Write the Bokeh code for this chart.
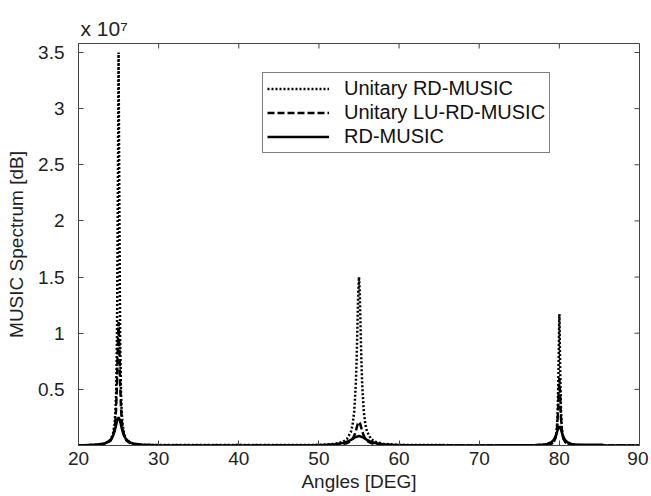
from bokeh.plotting import figure
from bokeh.models import Range1d, FixedTicker, Legend, LegendItem, Title
from bokeh.embed import file_html
from bokeh.resources import INLINE

# ---- data (MUSIC spectrum, in units of 1e7) ----
ur_angles = [20, 22, 23, 24, 24.3, 24.5, 24.6, 24.7, 24.8, 24.9, 25, 25.1, 25.2, 25.3, 25.4, 25.5, 25.7, 26, 26.5, 27, 28, 30,
             40, 50, 52, 53, 53.5, 54, 54.2, 54.4, 54.6, 54.7, 54.8, 54.9, 55, 55.1, 55.2, 55.3, 55.4, 55.6, 55.8, 56, 56.5, 57, 58, 60,
             70, 75, 77, 78, 78.5, 79, 79.3, 79.5, 79.6, 79.7, 79.8, 79.9, 80, 80.1, 80.2, 80.3, 80.4, 80.5, 80.7, 81, 81.5, 82, 83, 85, 90]
ur_values = [0.002, 0.004, 0.0056, 0.05, 0.1, 0.19, 0.29, 0.48, 0.93, 2.07, 3.5, 2.07, 0.93, 0.48, 0.29, 0.19, 0.1, 0.05, 0.022, 0.0126, 0.0056, 0.004,
             0.0056, 0.004, 0.015, 0.033, 0.058, 0.124, 0.185, 0.3, 0.54, 0.75, 1.04, 1.35, 1.5, 1.35, 1.04, 0.75, 0.54, 0.3, 0.185, 0.124, 0.058, 0.033, 0.015, 0.0054,
             0.002, 0.0007, 0.0019, 0.0042, 0.0075, 0.0165, 0.033, 0.064, 0.097, 0.16, 0.31, 0.69, 1.17, 0.69, 0.31, 0.16, 0.097, 0.064, 0.033, 0.0165, 0.0075, 0.0042, 0.0019, 0.0007, 0.0005]

lu_angles = [20, 22, 23, 23.5, 24, 24.3, 24.5, 24.6, 24.7, 24.8, 24.9, 25, 25.1, 25.2, 25.3, 25.4, 25.5, 25.7, 26, 26.5, 27, 28, 30,
             40, 50, 52, 53, 53.5, 54, 54.3, 54.5, 54.7, 54.85, 55, 55.15, 55.3, 55.5, 55.7, 56, 56.5, 57, 58, 60,
             70, 75, 77, 78, 78.5, 79, 79.3, 79.5, 79.6, 79.7, 79.8, 79.9, 80, 80.1, 80.2, 80.3, 80.4, 80.5, 80.7, 81, 81.5, 82, 83, 85, 90]
lu_values = [0.0018, 0.0049, 0.011, 0.019, 0.042, 0.083, 0.152, 0.22, 0.34, 0.55, 0.88, 1.1, 0.88, 0.55, 0.34, 0.22, 0.152, 0.083, 0.042, 0.019, 0.011, 0.0049, 0.0018,
             0.0015, 0.002, 0.0057, 0.0124, 0.021, 0.042, 0.071, 0.105, 0.154, 0.193, 0.21, 0.193, 0.154, 0.105, 0.071, 0.042, 0.021, 0.0124, 0.0057, 0.002,
             0.0007, 0.0007, 0.0019, 0.0043, 0.0076, 0.0169, 0.033, 0.062, 0.092, 0.146, 0.25, 0.446, 0.6, 0.446, 0.25, 0.146, 0.092, 0.062, 0.033, 0.0169, 0.0076, 0.0043, 0.0019, 0.0007, 0.0005]

rd_angles = [20, 22, 23, 23.5, 24, 24.3, 24.5, 24.7, 24.85, 25, 25.15, 25.3, 25.5, 25.7, 26, 26.5, 27, 28, 30,
             40, 45, 49, 51, 52, 53, 53.5, 54, 54.5, 55, 55.5, 56, 56.5, 57, 58, 59, 61, 65,
             72, 75, 77, 78, 78.5, 79, 79.3, 79.5, 79.7, 79.85, 80, 80.15, 80.3, 80.5, 80.7, 81, 81.5, 82, 83, 85.4, 85.6, 90]
rd_values = [0.0008, 0.0068, 0.0147, 0.025, 0.05, 0.084, 0.125, 0.184, 0.229, 0.25, 0.229, 0.184, 0.125, 0.084, 0.05, 0.025, 0.0147, 0.0068, 0.0025,
             0.001, 0.0012, 0.0033, 0.007, 0.0117, 0.0225, 0.033, 0.05, 0.072, 0.085, 0.072, 0.05, 0.033, 0.0225, 0.0117, 0.007, 0.0033, 0.0012,
             0.001, 0.0014, 0.0037, 0.0082, 0.014, 0.029, 0.05, 0.076, 0.118, 0.153, 0.17, 0.153, 0.118, 0.076, 0.05, 0.029, 0.014, 0.0082, 0.006, 0.006, 0.0, 0.0]

x_ticks = [20, 30, 40, 50, 60, 70, 80, 90]
y_ticks = [0.5, 1, 1.5, 2, 2.5, 3, 3.5]
series_labels = ["Unitary RD-MUSIC", "Unitary LU-RD-MUSIC", "RD-MUSIC"]

X_MIN, X_MAX = 20, 90
Y_MIN, Y_MAX = 0, 3.58

FONT = "Liberation Sans"
FS = "19px"
AX = "#444444"

p = figure(width=648, height=496, output_backend="svg", toolbar_location=None,
           x_range=Range1d(X_MIN, X_MAX), y_range=Range1d(Y_MIN, Y_MAX),
           min_border_left=78, min_border_right=9, min_border_top=43, min_border_bottom=51)
p.background_fill_color = "white"
p.border_fill_color = "white"
p.outline_line_color = AX
p.outline_line_width = 1
p.xgrid.visible = False
p.ygrid.visible = False

r1 = p.line(ur_angles, ur_values, line_color="black", line_width=2.5, line_dash="2 2")
r2 = p.line(lu_angles, lu_values, line_color="black", line_width=2.5, line_dash="7 3")
r3 = p.line(rd_angles, rd_values, line_color="black", line_width=2.5)

for ax in (p.xaxis[0], p.yaxis[0]):
    ax.major_tick_in = 5
    ax.major_tick_out = 0
    ax.minor_tick_line_color = None
    ax.axis_line_color = AX
    ax.major_tick_line_color = AX
    ax.major_label_text_font = FONT
    ax.major_label_text_font_size = FS
    ax.major_label_text_color = "#222222"
    ax.axis_label_text_font = FONT
    ax.axis_label_text_font_size = FS
    ax.axis_label_text_font_style = "normal"
    ax.axis_label_text_color = "#222222"

p.xaxis[0].ticker = FixedTicker(ticks=x_ticks)
p.yaxis[0].ticker = FixedTicker(ticks=y_ticks)
p.xaxis[0].axis_label = "Angles [DEG]"
p.yaxis[0].axis_label = "MUSIC Spectrum [dB]"
p.xaxis[0].major_label_standoff = 6
p.xaxis[0].axis_label_standoff = 3
p.yaxis[0].major_label_standoff = 14
p.yaxis[0].axis_label_standoff = 8

# inward tick marks on the top and right frame edges (box on)
tick_len_y = 5 * (Y_MAX - Y_MIN) / 400
tick_len_x = 5 * (X_MAX - X_MIN) / 560
p.segment(x0=x_ticks, y0=[Y_MAX] * len(x_ticks), x1=x_ticks, y1=[Y_MAX - tick_len_y] * len(x_ticks),
          line_color=AX, line_width=1)
p.segment(x0=[X_MAX] * len(y_ticks), y0=y_ticks, x1=[X_MAX - tick_len_x] * len(y_ticks), y1=y_ticks,
          line_color=AX, line_width=1)

legend = Legend(items=[LegendItem(label=series_labels[0], renderers=[r1]),
                       LegendItem(label=series_labels[1], renderers=[r2]),
                       LegendItem(label=series_labels[2], renderers=[r3])],
                location=(184, 292), glyph_width=62, glyph_height=21, label_height=21,
                label_standoff=15, spacing=1, padding=4, margin=0,
                label_text_font=FONT, label_text_font_size="20px", label_text_color="#111111",
                border_line_color="black", border_line_width=1, background_fill_color="white",
                background_fill_alpha=1.0)
p.add_layout(legend, "center")

p.add_layout(Title(text="x 10\u2077", align="left", offset=2, standoff=8,
                   text_font=FONT, text_font_size="21px", text_font_style="normal",
                   text_color="#222222"), "above")

open("out.html", "w").write(file_html(p, INLINE))
